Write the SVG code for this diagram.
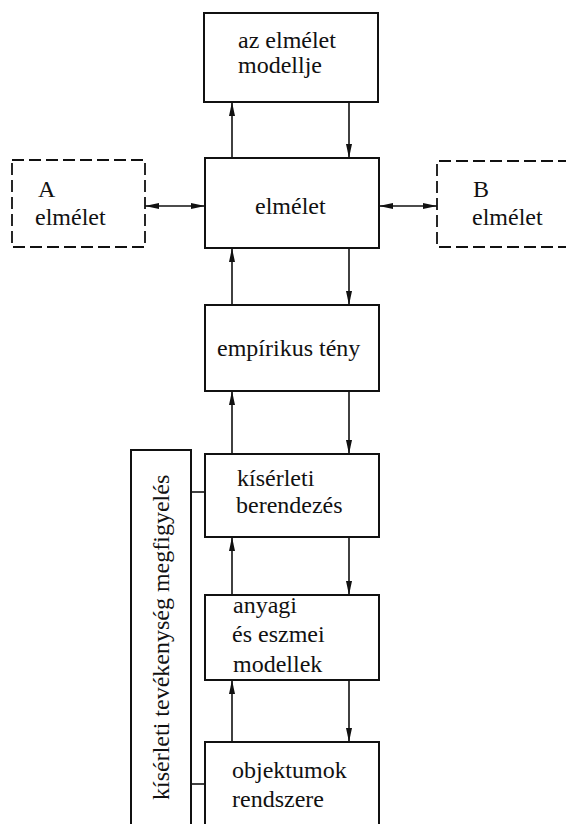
<svg xmlns="http://www.w3.org/2000/svg" width="566" height="824" viewBox="0 0 566 824">
<defs>
<style>
.box{fill:#fff;stroke:#111;stroke-width:2}
.dash{fill:#fff;stroke:#111;stroke-width:1.8;stroke-dasharray:12 5}
.ln{fill:none;stroke:#111;stroke-width:1.6}
.t{font-family:'Liberation Serif','Times New Roman',serif;font-size:24px;fill:#111}
</style>
<marker id="ah" viewBox="0 0 14 6" refX="14" refY="3" markerWidth="14" markerHeight="6" markerUnits="userSpaceOnUse" orient="auto-start-reverse">
<path d="M0,0 L14,3 L0,6 Z" fill="#111"/>
</marker>
</defs>
<rect width="566" height="824" fill="#fff"/>
<g id="connectors">
<line class="ln" x1="232" y1="158" x2="232" y2="102" marker-end="url(#ah)"/>
<line class="ln" x1="349" y1="102" x2="349" y2="158" marker-end="url(#ah)"/>
<line class="ln" x1="232" y1="305" x2="232" y2="248" marker-end="url(#ah)"/>
<line class="ln" x1="349" y1="248" x2="349" y2="305" marker-end="url(#ah)"/>
<line class="ln" x1="232" y1="454" x2="232" y2="391" marker-end="url(#ah)"/>
<line class="ln" x1="349" y1="391" x2="349" y2="454" marker-end="url(#ah)"/>
<line class="ln" x1="232" y1="595" x2="232" y2="537" marker-end="url(#ah)"/>
<line class="ln" x1="349" y1="537" x2="349" y2="595" marker-end="url(#ah)"/>
<line class="ln" x1="232" y1="742" x2="232" y2="680" marker-end="url(#ah)"/>
<line class="ln" x1="349" y1="680" x2="349" y2="742" marker-end="url(#ah)"/>
<line class="ln" x1="145" y1="206" x2="205" y2="206" marker-start="url(#ah)" marker-end="url(#ah)"/>
<line class="ln" x1="379" y1="206" x2="437" y2="206" marker-start="url(#ah)" marker-end="url(#ah)"/>
<line class="ln" x1="191" y1="492" x2="205" y2="492"/>
<line class="ln" x1="191" y1="784" x2="205" y2="784"/>
</g>
<g id="modell">
<rect class="box" x="204" y="13" width="174" height="89"/>
<text class="t" x="238" y="48" font-family="Liberation Serif, serif" font-size="24">az elmélet</text>
<text class="t" x="238" y="73" font-family="Liberation Serif, serif" font-size="24">modellje</text>
</g>
<g id="elmelet">
<rect class="box" x="205" y="158" width="174" height="90"/>
<text class="t" x="255" y="214" font-family="Liberation Serif, serif" font-size="24">elmélet</text>
</g>
<g id="a-elmelet">
<rect class="dash" x="12" y="160" width="133" height="87"/>
<text class="t" x="38" y="197" font-family="Liberation Serif, serif" font-size="24">A</text>
<text class="t" x="35" y="225" font-family="Liberation Serif, serif" font-size="24">elmélet</text>
</g>
<g id="b-elmelet">
<path class="dash" d="M570,161 H437 V247 H570"/>
<text class="t" x="473" y="197" font-family="Liberation Serif, serif" font-size="24">B</text>
<text class="t" x="472" y="225" font-family="Liberation Serif, serif" font-size="24">elmélet</text>
</g>
<g id="empirikus">
<rect class="box" x="205" y="305" width="174" height="86"/>
<text class="t" x="217" y="356" font-family="Liberation Serif, serif" font-size="24">empírikus tény</text>
</g>
<g id="kiserleti">
<rect class="box" x="205" y="454" width="174" height="83"/>
<text class="t" x="237" y="486" font-family="Liberation Serif, serif" font-size="24">kísérleti</text>
<text class="t" x="236" y="513" font-family="Liberation Serif, serif" font-size="24">berendezés</text>
</g>
<g id="anyagi">
<rect class="box" x="205" y="595" width="174" height="85"/>
<text class="t" x="233" y="613" font-family="Liberation Serif, serif" font-size="24">anyagi</text>
<text class="t" x="232" y="642" font-family="Liberation Serif, serif" font-size="24">és eszmei</text>
<text class="t" x="233" y="672" font-family="Liberation Serif, serif" font-size="24">modellek</text>
</g>
<g id="objektumok">
<path class="box" d="M205,830 V742 H379 V830"/>
<text class="t" x="232" y="778" font-family="Liberation Serif, serif" font-size="24">objektumok</text>
<text class="t" x="232" y="807" font-family="Liberation Serif, serif" font-size="24">rendszere</text>
</g>
<g id="tevekenyseg">
<path class="box" d="M131,830 V450 H191 V830"/>
<text class="t" transform="translate(169,800) rotate(-90)" font-family="Liberation Serif, serif" font-size="24">kísérleti tevékenység megfigyelés</text>
</g>
</svg>
